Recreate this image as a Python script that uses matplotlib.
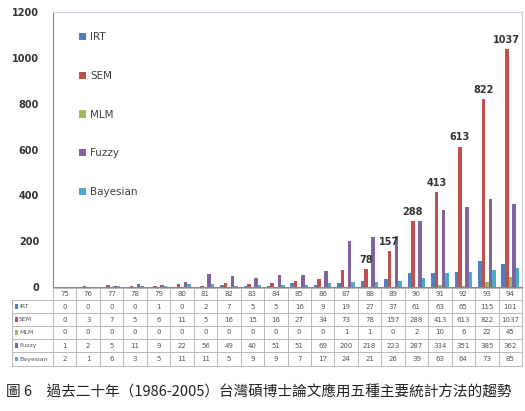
import matplotlib
matplotlib.use("Agg")
import matplotlib.pyplot as plt
import matplotlib.transforms as mtransforms
from matplotlib.patches import Patch, Rectangle
import numpy as np

years = ["75", "76", "77", "78", "79", "80", "81", "82", "83", "84",
         "85", "86", "87", "88", "89", "90", "91", "92", "93", "94"]
series_names = ["IRT", "SEM", "MLM", "Fuzzy", "Bayesian"]
irt = [0, 0, 0, 0, 1, 0, 2, 7, 5, 5, 16, 9, 19, 27, 37, 61, 63, 65, 115, 101]
sem = [0, 3, 7, 5, 6, 11, 5, 16, 15, 16, 27, 34, 73, 78, 157, 288, 413, 613, 822, 1037]
mlm = [0, 0, 0, 0, 0, 0, 0, 0, 0, 0, 0, 0, 1, 1, 0, 2, 10, 6, 22, 45]
fuzzy = [1, 2, 5, 11, 9, 22, 56, 49, 40, 51, 51, 69, 200, 218, 223, 287, 334, 351, 385, 362]
bayesian = [2, 1, 6, 3, 5, 11, 11, 5, 9, 9, 7, 17, 24, 21, 26, 39, 63, 64, 73, 85]
sem_labelled_from = "88"
yticks = [0, 200, 400, 600, 800, 1000, 1200]
caption = "圖 6　過去二十年（1986-2005）台灣碩博士論文應用五種主要統計方法的趨勢"

colors = ["#4F81BD", "#C0504D", "#9BBB59", "#8064A2", "#4BACC6"]
all_series = [irt, sem, mlm, fuzzy, bayesian]

W, H = 525, 411
fig = plt.figure(figsize=(W / 100, H / 100), dpi=100)
fig.patch.set_facecolor("white")

# axes placement in pixels
ax_l, ax_r, ax_t, ax_b = 53, 522, 12, 287
ax = fig.add_axes([ax_l / W, 1 - ax_b / H, (ax_r - ax_l) / W, (ax_b - ax_t) / H])

n = len(years)
x = np.arange(n)
bw = 0.15
for k, (vals, c) in enumerate(zip(all_series, colors)):
    ax.bar(x + (k - 2) * bw, vals, width=bw, color=c, edgecolor="none", zorder=2)

start = years.index(sem_labelled_from)
for i in range(start, n):
    ax.text(x[i] - bw, sem[i] + 18, str(sem[i]), ha="center", va="bottom",
            fontsize=7, fontweight="bold", color="#333333", zorder=3)

ax.set_xlim(-0.5, n - 0.5)
ax.set_ylim(0, 1200)
ax.set_yticks(yticks)
ax.set_yticklabels([str(t) for t in yticks], fontsize=7, fontweight="bold", color="#333333")
ax.tick_params(axis="y", length=0, pad=10)
ax.set_xticks([])
for s in ["top", "right"]:
    ax.spines[s].set_color("#C8D4E0")
    ax.spines[s].set_linewidth(0.8)
ax.spines["left"].set_color("#888888")
ax.spines["left"].set_linewidth(0.8)
ax.spines["bottom"].set_color("#888888")
ax.spines["bottom"].set_linewidth(0.8)

handles = [Patch(facecolor=c, edgecolor="none") for c in colors]
leg = ax.legend(handles, series_names, loc="upper left", bbox_to_anchor=(0.035, 0.96),
                frameon=False, fontsize=7.5, labelspacing=2.75, handlelength=0.7,
                handleheight=0.7, handletextpad=0.4, labelcolor="#404040")

# ---- data table below axes ----
trans = mtransforms.blended_transform_factory(ax.transData, fig.transFigure)
def fy(py):
    return 1 - py / H

row_edges = [288, 300, 313, 326, 339, 352, 366]
left_x = -0.5 - (ax_l - 12) / ((ax_r - ax_l) / n)
line_kw = dict(color="#B8B8B8", lw=0.7, transform=trans, clip_on=False)

# horizontal lines
ax.plot([-0.5, n - 0.5], [fy(row_edges[0])] * 2, **line_kw)
for py in row_edges[1:]:
    ax.plot([left_x, n - 0.5], [fy(py)] * 2, **line_kw)
# vertical lines
for i in range(n + 1):
    ax.plot([i - 0.5, i - 0.5], [fy(row_edges[0]), fy(row_edges[-1])], **line_kw)
ax.plot([left_x, left_x], [fy(row_edges[1]), fy(row_edges[-1])], **line_kw)

# header
for i in range(n):
    ax.text(x[i], fy((row_edges[0] + row_edges[1]) / 2), years[i], ha="center", va="center",
            fontsize=5, color="#555555", transform=trans)
# rows
for r, (name, vals, c) in enumerate(zip(series_names, all_series, colors)):
    yc = fy((row_edges[r + 1] + row_edges[r + 2]) / 2)
    for i in range(n):
        ax.text(x[i], yc, str(vals[i]), ha="center", va="center", fontsize=5,
                color="#555555", transform=trans)
    ax.add_patch(Rectangle((left_x + 0.12, yc - 0.006), 0.13, 0.012, facecolor=c,
                           edgecolor="none", transform=trans, clip_on=False))
    ax.text(left_x + 0.3, yc, name, ha="left", va="center", fontsize=4.5,
            color="#555555", transform=trans)

fig.text(0.012, fy(393), caption, ha="left", va="center", fontsize=10.5,
         family=["Noto Sans CJK TC", "DejaVu Sans"], color="#222222")

fig.savefig("out.png", dpi=100, facecolor="white")
